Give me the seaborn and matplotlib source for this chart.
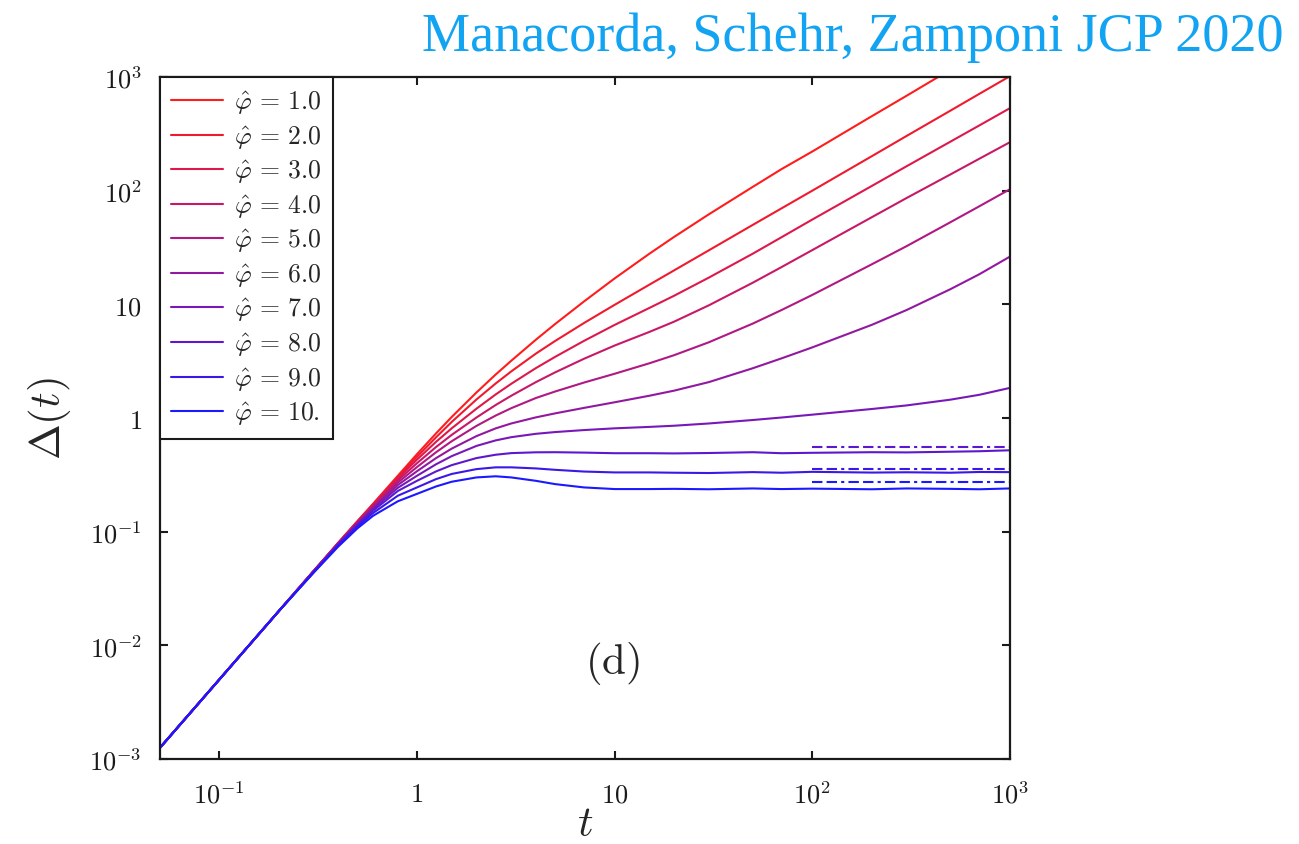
import numpy as np
import pandas as pd
import seaborn as sns
import matplotlib.pyplot as plt

# time grid and Delta(t) curves
t = [0.05, 0.1, 0.2, 0.3, 0.4, 0.5, 0.6, 0.8, 1, 1.25, 1.5, 2, 2.5, 3, 4, 5, 7, 10, 15, 20,
     30, 50, 70, 100, 200, 300, 500, 700, 1000]

delta_1 = [1.25e-3, 5.0e-3, 0.020, 0.045, 0.080, 0.124, 0.176, 0.310, 0.480, 0.733, 1.022, 1.676, 2.41, 3.19, 4.89,
           6.71, 10.6, 16.9, 27.9, 39.2, 62, 108, 155, 221, 452, 684, 1160, 1646, 2360]
delta_2 = [1.25e-3, 5.0e-3, 0.020, 0.045, 0.080, 0.123, 0.174, 0.302, 0.455, 0.677, 0.924, 1.455, 2.01, 2.57, 3.69,
           4.76, 6.85, 9.9, 14.9, 19.9, 29.9, 50, 70, 100, 201, 303, 506, 711, 1017]
delta_3 = [1.25e-3, 5.0e-3, 0.020, 0.045, 0.079, 0.122, 0.172, 0.293, 0.430, 0.618, 0.812, 1.208, 1.61, 2.00, 2.75,
           3.45, 4.77, 6.59, 9.3, 11.9, 17.2, 27.9, 39.0, 55.7, 110, 164, 270, 375, 532]
delta_4 = [1.25e-3, 5.0e-3, 0.020, 0.045, 0.079, 0.121, 0.169, 0.282, 0.400, 0.556, 0.711, 1.010, 1.30, 1.57, 2.07,
           2.52, 3.32, 4.34, 5.72, 7.04, 9.81, 15.5, 21.3, 30.0, 58.4, 86.2, 139, 191, 267]
delta_5 = [1.25e-3, 5.0e-3, 0.020, 0.045, 0.079, 0.120, 0.166, 0.270, 0.370, 0.500, 0.625, 0.852, 1.05, 1.22, 1.50,
           1.71, 2.05, 2.45, 3.03, 3.57, 4.64, 6.77, 8.92, 12.1, 22.5, 32.5, 52.8, 72.9, 103]
delta_6 = [1.25e-3, 5.0e-3, 0.020, 0.045, 0.078, 0.118, 0.162, 0.257, 0.340, 0.444, 0.538, 0.693, 0.81, 0.895, 1.013,
           1.098, 1.227, 1.375, 1.57, 1.74, 2.07, 2.74, 3.35, 4.18, 6.60, 8.91, 13.6, 18.4, 26.3]
delta_7 = [1.25e-3, 5.0e-3, 0.020, 0.044, 0.078, 0.116, 0.158, 0.243, 0.310, 0.392, 0.462, 0.568, 0.635, 0.678, 0.726,
           0.752, 0.783, 0.811, 0.835, 0.855, 0.895, 0.96, 1.01, 1.07, 1.2, 1.29, 1.45, 1.6, 1.84]
delta_8 = [1.25e-3, 5.0e-3, 0.020, 0.044, 0.077, 0.114, 0.153, 0.228, 0.280, 0.339, 0.385, 0.444, 0.475, 0.491, 0.499,
           0.50, 0.496, 0.49, 0.49, 0.488, 0.492, 0.50, 0.49, 0.494, 0.50, 0.498, 0.505, 0.51, 0.52]
delta_9 = [1.25e-3, 5.0e-3, 0.020, 0.044, 0.076, 0.111, 0.146, 0.207, 0.245, 0.290, 0.322, 0.355, 0.368, 0.368, 0.36,
           0.35, 0.338, 0.332, 0.332, 0.33, 0.328, 0.334, 0.33, 0.336, 0.331, 0.333, 0.33, 0.335, 0.334]
delta_10 = [1.25e-3, 5.0e-3, 0.020, 0.0435, 0.074, 0.107, 0.138, 0.185, 0.215, 0.250, 0.275, 0.300, 0.307, 0.300, 0.28,
            0.262, 0.245, 0.237, 0.237, 0.238, 0.236, 0.24, 0.237, 0.239, 0.236, 0.24, 0.238, 0.236, 0.24]

curves = [delta_1, delta_2, delta_3, delta_4, delta_5, delta_6, delta_7, delta_8, delta_9, delta_10]
labels = [r'$\hat{\varphi}\,=\,1.0$', r'$\hat{\varphi}\,=\,2.0$', r'$\hat{\varphi}\,=\,3.0$', r'$\hat{\varphi}\,=\,4.0$',
          r'$\hat{\varphi}\,=\,5.0$', r'$\hat{\varphi}\,=\,6.0$', r'$\hat{\varphi}\,=\,7.0$', r'$\hat{\varphi}\,=\,8.0$',
          r'$\hat{\varphi}\,=\,9.0$', r'$\hat{\varphi}\,=\,10.$']
colors = ['#ff1c1c', '#f01a2e', '#de184a', '#c81868', '#b01882', '#9218a0', '#7818b8', '#5c18d0', '#3a18e8', '#1c18ff']

# long-time plateaus (dash-dot lines)
t_plateau = [100, 1000]
plateau_8 = [0.555, 0.555]
plateau_9 = [0.355, 0.355]
plateau_10 = [0.272, 0.272]

sns.set_style('ticks')
plt.rcParams['mathtext.fontset'] = 'cm'
plt.rcParams['font.family'] = ['DejaVu Serif']

fig = plt.figure(figsize=(12.99, 8.45), dpi=100)
ax = fig.add_axes([0.123, 0.1006, 0.6545, 0.8071])

for vals, lab, col in zip(curves, labels, colors):
    sns.lineplot(x=t, y=vals, color=col, label=lab, linewidth=1.5, ax=ax, sort=False)

for vals, col in zip([plateau_8, plateau_9, plateau_10], colors[7:]):
    sns.lineplot(x=t_plateau, y=vals, color=col, linewidth=1.5, ax=ax, legend=False,
                 linestyle=(0, (5, 2, 5, 2, 1.5, 2)))

ax.set_xscale('log')
ax.set_yscale('log')
ax.set_xlim(0.05, 1000)
ax.set_ylim(1e-3, 1e3)
ax.minorticks_off()

ax.set_xticks([0.1, 1, 10, 100, 1000])
ax.set_xticklabels([r'$10^{-1}$', r'$1$', r'$10$', r'$10^{2}$', r'$10^{3}$'])
ax.set_yticks([1e-3, 1e-2, 1e-1, 1, 10, 100, 1000])
ax.set_yticklabels([r'$10^{-3}$', r'$10^{-2}$', r'$10^{-1}$', r'$1$', r'$10$', r'$10^{2}$', r'$10^{3}$'])
ax.tick_params(which='major', direction='in', length=6, width=1.5, labelsize=19,
               top=True, right=True, pad=16, colors='#1a1a1a')
ax.tick_params(axis='y', pad=13)
for s in ax.spines.values():
    s.set_linewidth(1.6)
    s.set_color('#1a1a1a')

ax.set_xlabel(r'$t$', fontsize=31, labelpad=-4)
ax.set_ylabel(r'$\Delta(t)$', fontsize=31, labelpad=12)

ax.text(0.533, 0.142, r'$\mathrm{(d)}$', transform=ax.transAxes, fontsize=31, ha='center', va='center')

leg = ax.legend(loc='upper left', bbox_to_anchor=(0, 1), borderaxespad=0, fontsize=18.5,
                handlelength=2.0, handletextpad=0.45, labelspacing=0.28, borderpad=0.45,
                fancybox=False, framealpha=1, edgecolor='#1a1a1a')
leg.get_frame().set_linewidth(1.5)

fig.text(0.988, 0.94, 'Manacorda, Schehr, Zamponi JCP 2020', ha='right', va='baseline',
         fontsize=39, color='#12a4f2', family='Liberation Serif')

fig.savefig('out.png', dpi=100)
